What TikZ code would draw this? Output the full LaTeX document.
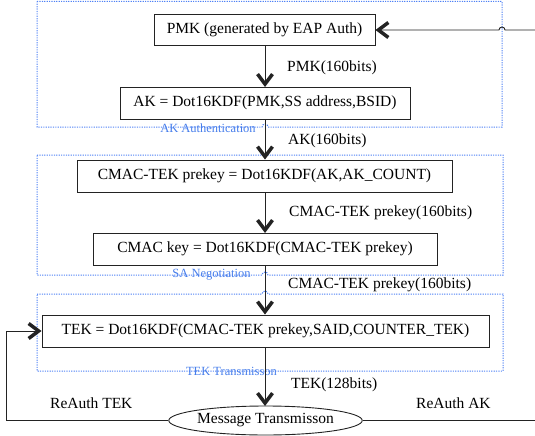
\documentclass[tikz,border=0pt]{standalone}
\usepackage{fontspec}
\setmainfont{Liberation Serif}
\usetikzlibrary{arrows.meta,shapes.geometric}
\definecolor{grpline}{RGB}{80,130,245}
\definecolor{grptext}{RGB}{70,125,235}
\definecolor{ink}{RGB}{35,35,35}
\tikzset{
  keybox/.style={draw=ink, line width=0.9pt, rectangle, inner sep=0pt,
    font=\fontsize{15.5}{18}\selectfont},
  msgshape/.style={draw=ink, line width=0.9pt, ellipse, inner sep=0pt,
    minimum width=189pt, minimum height=29pt, font=\fontsize{15.5}{18}\selectfont},
  conn/.style={draw=ink, line width=0.9pt},
  flow/.style={conn, -{Straight Barb[length=10pt,width=15pt,line width=3.5pt]}},
  lbl/.style={anchor=west, inner sep=0pt, font=\fontsize{15.5}{18}\selectfont},
  grp/.style={draw=grpline, line width=1pt, dash pattern=on 1.2pt off 1.2pt},
  grplbl/.style={text=grptext, inner sep=0pt, font=\fontsize{12.5}{14}\selectfont}
}
\begin{document}
\begin{tikzpicture}[x=1pt,y=1pt]
\useasboundingbox (0,0) rectangle (535,-436);

% dotted phase frames, with small hops where the key flow crosses them
\draw[grp] (37,-1.5) -- (502,-1.5) -- (502,-127) -- (268,-127)
  arc[start angle=0,end angle=180,radius=3] -- (37,-127) -- cycle;
\draw[grp] (37,-155) -- (503,-155) -- (503,-275) -- (268,-275)
  arc[start angle=0,end angle=180,radius=3] -- (37,-275) -- cycle;
\draw[grp] (37,-294) -- (262,-294)
  arc[start angle=180,end angle=0,radius=3] -- (503,-294) -- (503,-371) -- (37,-371) -- cycle;

\node[grplbl] (lauth) at (208,-128) {AK Authentication};
\node[grplbl] (lsa) at (211.5,-275) {SA Negotiation};
\node[grplbl] (ltek) at (231.5,-371) {TEK Transmisson};

% key derivation chain
\node[keybox, minimum width=221pt, minimum height=31pt] (pmk) at (264.5,-30) {PMK (generated by EAP Auth)};
\node[keybox, minimum width=290pt, minimum height=32pt] (ak) at (265,-103) {AK = Dot16KDF(PMK,SS address,BSID)};
\node[keybox, minimum width=375pt, minimum height=32pt] (pre) at (264.5,-176) {CMAC-TEK prekey = Dot16KDF(AK,AK\_COUNT)};
\node[keybox, minimum width=344pt, minimum height=32pt] (cmac) at (265,-249) {CMAC key = Dot16KDF(CMAC-TEK prekey)};
\node[keybox, minimum width=447pt, minimum height=32pt] (tek) at (265.5,-331) {TEK = Dot16KDF(CMAC-TEK prekey,SAID,COUNTER\_TEK)};
\node[msgshape] (msg) at (265.5,-420.5) {Message Transmisson};

\draw[flow] (265,-45.5) -- (265,-87);
\draw[flow] (ak.south) -- (ak.south |- pre.north);
\draw[flow] (265,-192) -- (265,-233);
\draw[flow] (cmac.south) -- (cmac.south |- tek.north);
\draw[flow] (265,-347) -- (265,-406);

% flow labels
\node[lbl] (l1) at (287,-68) {PMK(160bits)};
\node[lbl] (l2) at (288,-141) {AK(160bits)};
\node[lbl] (l3) at (289,-213) {CMAC-TEK prekey(160bits)};
\node[lbl] (l4) at (288,-285) {CMAC-TEK prekey(160bits)};
\node[lbl] (l5) at (291,-385) {TEK(128bits)};
\node[lbl] (l6) at (50,-403) {ReAuth TEK};
\node[lbl] (l7) at (416,-403) {ReAuth AK};

% re-authentication loops
\coordinate (rout) at (535,-420.5);
\coordinate (rin) at (535,-30);
\draw[flow] (msg.west) -- ++(-162,0) |- (tek.west);
\draw[conn] (msg.east) -- (rout);
\draw[flow] (rin) -- (505,-30) arc[start angle=0,end angle=180,radius=3] -- (pmk.east);
\end{tikzpicture}
\end{document}
